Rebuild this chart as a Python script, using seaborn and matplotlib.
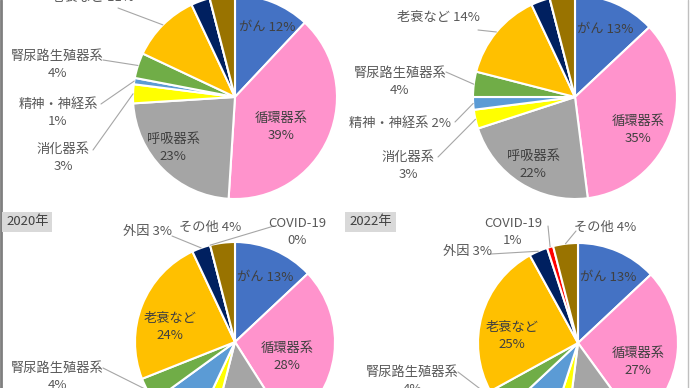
import matplotlib
matplotlib.use("Agg")
import matplotlib.pyplot as plt
from matplotlib.lines import Line2D
import seaborn as sns

# Causes of death, share (%) by panel; top two panels have their year cut off
categories = ["がん", "循環器系", "呼吸器系", "消化器系", "精神・神経系",
              "腎尿路生殖器系", "老衰など", "外因", "COVID-19", "その他"]
share_top_left = [12, 39, 23, 3, 1, 4, 11, 3, 0, 4]
share_top_right = [13, 35, 22, 3, 2, 4, 14, 3, 0, 4]
share_2020 = [13, 28, 13, 3, 8, 4, 24, 3, 0, 4]
share_2022 = [13, 27, 12, 3, 8, 4, 25, 3, 1, 4]
year_labels = ["", "", "2020年", "2022年"]

colors = ["#4472C4", "#FF93CC", "#A5A5A5", "#FFFF00", "#5B9BD5",
          "#70AD47", "#FFC000", "#002060", "#FF0000", "#997300"]

sns.set_theme(style="white")
plt.rcParams["font.family"] = ["Noto Sans CJK JP", "DejaVu Sans"]
palette = sns.color_palette(colors)

W, H = 690, 388
fig = plt.figure(figsize=(W / 100, H / 100), dpi=100)
fig.patch.set_facecolor("white")

INNER = "#404040"
OUTER = "#595959"
FS = 9.5

# panel layout: centre (px), radius (px), label placements
# each label: (category, x, y, two_lines, leader_start or None)
panels = [
    dict(vals=share_top_left, c=(235, 97), r=102, labels=[
        ("がん", 267, 27, False, None),
        ("循環器系", 281, 127, True, None),
        ("呼吸器系", 173, 148, True, None),
        ("消化器系", 63, 158, True, (93, 150)),
        ("精神・神経系", 58, 113, True, (101, 104)),
        ("腎尿路生殖器系", 57, 65, True, (103, 60)),
        ("老衰など", 92, -2, False, (118, 8)),
    ]),
    dict(vals=share_top_right, c=(575, 97), r=102, labels=[
        ("がん", 605, 29, False, None),
        ("循環器系", 638, 130, True, None),
        ("呼吸器系", 533, 165, True, None),
        ("消化器系", 408, 166, True, (438, 157)),
        ("精神・神経系", 400, 123, False, (455, 122)),
        ("腎尿路生殖器系", 400, 82, True, (446, 72)),
        ("老衰など", 438, 18, False, (478, 30)),
    ]),
    dict(vals=share_2020, c=(235, 342), r=100, labels=[
        ("外因", 147, 232, False, (172, 236)),
        ("その他", 210, 227, False, None),
        ("COVID-19", 297, 232, True, (274, 226)),
        ("がん", 265, 277, False, None),
        ("老衰など", 170, 327, True, None),
        ("循環器系", 287, 357, True, None),
        ("腎尿路生殖器系", 57, 377, True, (103, 368)),
    ]),
    dict(vals=share_2022, c=(578, 343), r=100, labels=[
        ("COVID-19", 513, 232, True, (548, 226)),
        ("その他", 605, 227, False, (576, 231)),
        ("外因", 467, 252, False, (491, 254)),
        ("がん", 608, 277, False, None),
        ("老衰など", 512, 336, True, None),
        ("循環器系", 638, 362, True, None),
        ("腎尿路生殖器系", 412, 381, True, (458, 372)),
    ]),
]

import numpy as np

for p, year in zip(panels, year_labels):
    cx, cy = p["c"]
    r = p["r"]
    ax = fig.add_axes([(cx - r) / W, 1 - (cy + r) / H, 2 * r / W, 2 * r / H])
    wedges, _ = ax.pie(p["vals"], colors=palette, startangle=90,
                       counterclock=False, radius=1,
                       wedgeprops=dict(edgecolor="white", linewidth=1.5))
    ax.set_xlim(-1, 1)
    ax.set_ylim(-1, 1)
    ax.set_aspect("equal")
    ax.axis("off")

    def to_data(x, y):
        return (x - cx) / r, (cy - y) / r

    for name, x, y, two, lead in p["labels"]:
        i = categories.index(name)
        pct = f"{round(p['vals'][i])}%"
        txt = f"{name}\n{pct}" if two else f"{name} {pct}"
        tx, ty = to_data(x, y)
        color = OUTER if lead is not None or name in ("外因", "その他") else INNER
        ax.text(tx, ty, txt, ha="center", va="center", fontsize=FS,
                color=color, linespacing=1.45, clip_on=False)
        if lead is not None:
            w = wedges[i]
            mid = np.deg2rad((w.theta1 + w.theta2) / 2)
            lx, ly = to_data(*lead)
            ax.plot([lx, np.cos(mid)], [ly, np.sin(mid)], color="#A6A6A6",
                    lw=0.8, clip_on=False)

    if year:
        fig.text((cx - 233 + 4) / W if cx < 400 else (cx - 233 + 4) / W, 1 - 222 / H,
                 year, ha="left", va="center", fontsize=9.5, color=INNER,
                 bbox=dict(boxstyle="square,pad=0.3", fc="#D9D9D9", ec="none"))

fig.add_artist(Line2D([1 / W, 1 / W], [0, 1], color="#7F7F7F", lw=2))
fig.add_artist(Line2D([688 / W, 688 / W], [0, 1], color="#BFBFBF", lw=1))

fig.savefig("out.png", dpi=100)
